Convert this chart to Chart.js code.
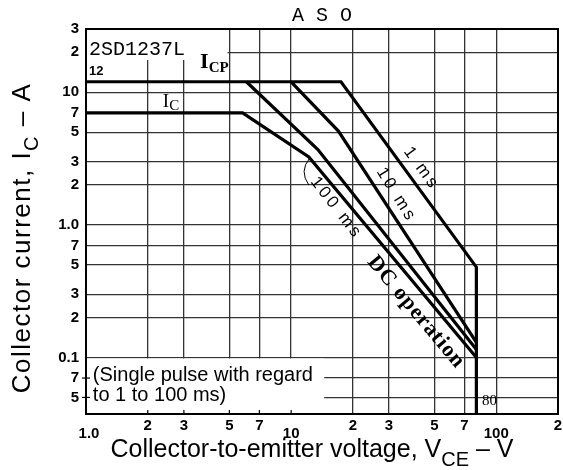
<!DOCTYPE html>
<html><head><meta charset="utf-8">
<script src="https://cdn.jsdelivr.net/npm/chart.js@4.4.1/dist/chart.umd.min.js"></script>
<style>html,body{margin:0;padding:0;background:#fff}#wrap{width:563px;height:470px;position:relative}</style>
</head><body><div id="wrap"><canvas id="c" width="563" height="470"></canvas></div>
<script>
// ---- axis ticks ----
const xTickValues = [1, 2, 3, 5, 7, 10, 20, 30, 50, 70, 100, 200];
const xTickLabels = ['1.0', '2', '3', '5', '7', '10', '2', '3', '5', '7', '100', '2'];
const xMajorLabels = ['1.0', '10', '100'];
const yTickValues = [30, 20, 10, 7, 5, 3, 2, 1, 0.7, 0.5, 0.3, 0.2, 0.1, 0.07, 0.05];
const yTickLabels = ['3', '2', '10', '7', '5', '3', '2', '1.0', '7', '5', '3', '2', '0.1', '7', '5'];
const xMin = 1, xMax = 200, yMin = 0.0375, yMax = 30;

// ---- series (VCE in V, IC in A) ----
const pulse1msV = [1, 17.5, 80, 80];
const pulse1msI = [12, 12, 0.48, 0.0375];
const pulse10msV = [10, 17, 80];
const pulse10msI = [12, 5.1, 0.13];
const pulse100msV = [6.05, 13.5, 80];
const pulse100msI = [12, 3.7, 0.115];
const dcV = [1, 5.8, 12.2, 80];
const dcI = [7, 7, 3.25, 0.1];

const SANS = '"Liberation Sans", Arial, sans-serif';
const SERIF = '"Liberation Serif", "Times New Roman", serif';
const MONO = '"Liberation Mono", "Courier New", monospace';

const toPts = (xs, ys) => xs.map((v, i) => ({ x: v, y: ys[i] }));
const ds = (label, xs, ys) => ({
  label, data: toPts(xs, ys), showLine: true, borderColor: '#000',
  backgroundColor: '#000', borderWidth: 3.2, pointRadius: 0, fill: false, tension: 0
});

function rich(ctx, parts, x, y, align) {
  let w = 0;
  parts.forEach(p => { ctx.font = p[1]; w += ctx.measureText(p[0]).width; });
  let cx = align === 'center' ? x - w / 2 : x;
  ctx.textAlign = 'left'; ctx.textBaseline = 'alphabetic';
  parts.forEach(p => { ctx.font = p[1]; ctx.fillText(p[0], cx, y + (p[2] || 0)); cx += ctx.measureText(p[0]).width; });
}
function rotText(ctx, txt, cx, cy, deg, font, spacing) {
  ctx.save();
  ctx.translate(cx, cy); ctx.rotate(deg * Math.PI / 180);
  ctx.font = font; ctx.letterSpacing = (spacing || 0) + 'px';
  ctx.textAlign = 'center'; ctx.textBaseline = 'middle';
  ctx.fillText(txt, 0, 0);
  ctx.restore();
}

const annot = {
  id: 'annot',
  beforeDatasetsDraw(chart) {
    const { ctx, chartArea: a, scales: { x, y } } = chart;
    ctx.save();
    ctx.fillStyle = '#fff';
    // blank area behind type label
    const bx1 = x.getPixelForValue(4.9), by1 = y.getPixelForValue(17.5);
    ctx.fillRect(a.left + 1, a.top + 1, bx1 - a.left - 1, by1 - a.top - 1);
    // blank area behind note
    const bx2 = x.getPixelForValue(14.5), by2 = y.getPixelForValue(0.1);
    ctx.fillRect(a.left + 1, by2 + 1, bx2 - a.left - 1, a.bottom - by2 - 2);
    // small tick marks inside note box
    ctx.strokeStyle = '#000'; ctx.lineWidth = 1.2;
    [2, 3, 5, 7, 10].forEach(v => {
      const px = x.getPixelForValue(v);
      ctx.beginPath(); ctx.moveTo(px, a.bottom); ctx.lineTo(px, a.bottom - 4); ctx.stroke();
    });
    [0.07, 0.05].forEach(v => {
      const py = y.getPixelForValue(v);
      ctx.beginPath(); ctx.moveTo(a.left - 4, py); ctx.lineTo(a.left + 4, py); ctx.stroke();
    });
    // frame
    ctx.lineWidth = 2;
    ctx.strokeRect(a.left, a.top, a.right - a.left, a.bottom - a.top);
    ctx.restore();
  },
  afterDatasetsDraw(chart) {
    const { ctx, chartArea: a, scales: { x, y } } = chart;
    const P = (v, i) => [x.getPixelForValue(v), y.getPixelForValue(i)];
    ctx.save();
    ctx.fillStyle = '#000';
    let p;
    // type label
    p = P(1.035, 19.1);
    ctx.font = '20px ' + MONO; ctx.textAlign = 'left'; ctx.textBaseline = 'alphabetic';
    ctx.fillText('2SD1237L', p[0], p[1]);
    p = P(1.035, 13.5);
    ctx.font = 'bold 13px ' + SANS; ctx.fillText('12', p[0], p[1]);
    // ICP
    p = P(3.6, 15.2);
    rich(ctx, [['I', 'bold 22px ' + SERIF, 0], ['CP', 'bold 15px ' + SERIF, 4]], p[0], p[1], 'left');
    // IC
    p = P(2.37, 7.74);
    rich(ctx, [['I', '19px ' + SERIF, 0], ['C', '15px ' + SERIF, 3]], p[0], p[1], 'left');
    // 80
    p = P(85.3, 0.0438);
    ctx.font = '15px ' + SERIF; ctx.textAlign = 'left'; ctx.fillText('80', p[0], p[1]);
    // note
    ctx.font = '20px ' + SANS;
    p = P(1.08, 0.0664); ctx.fillText('(Single pulse with regard', p[0], p[1]);
    p = P(1.08, 0.047); ctx.fillText('to 1 to 100 ms)', p[0], p[1]);
    // curve labels
    p = P(43.2, 2.66); rotText(ctx, '1 ms', p[0], p[1], 54, '17px ' + SANS, 3);
    p = P(32.6, 1.68); rotText(ctx, '10 ms', p[0], p[1], 58, '17px ' + SANS, 3);
    p = P(16.6, 1.34); rotText(ctx, '100 ms', p[0], p[1], 52, '17px ' + SANS, 3);
    p = P(40.6, 0.22); rotText(ctx, 'DC operation', p[0], p[1], 50, 'bold 22px ' + SERIF, 1);
    // leader arc for 100 ms
    const k = P(dcV[2], dcI[2]);
    ctx.strokeStyle = '#000'; ctx.lineWidth = 1;
    ctx.beginPath(); ctx.moveTo(k[0] + 1, k[1] + 1);
    ctx.quadraticCurveTo(k[0] - 10, k[1] + 14, k[0], k[1] + 28); ctx.stroke();
    // x tick labels
    ctx.font = 'bold 15px ' + SANS; ctx.textAlign = 'center'; ctx.textBaseline = 'top';
    xTickValues.forEach((v, i) => {
      const lab = xTickLabels[i];
      const major = xMajorLabels.includes(lab);
      ctx.fillText(lab, x.getPixelForValue(v) + (i === 0 ? 3 : 0), a.bottom + (major ? 12 : 4));
    });
    // axis titles
    rich(ctx, [['Collector-to-emitter voltage, V', '25px ' + SANS, 0], ['CE', '20px ' + SANS, 9], [' \u2013 V', '25px ' + SANS, 0]], 312, 457, 'center');
    ctx.translate(30, 238); ctx.rotate(-Math.PI / 2);
    ctx.letterSpacing = '1.5px';
    rich(ctx, [['Collector current, I', '26px ' + SANS, 0], ['C', '20px ' + SANS, 8], [' \u2013 A', '26px ' + SANS, 0]], 0, 0, 'center');
    ctx.restore();
  }
};

new Chart(document.getElementById('c'), {
  type: 'scatter',
  data: {
    datasets: [
      ds('1 ms', pulse1msV, pulse1msI),
      ds('10 ms', pulse10msV, pulse10msI),
      ds('100 ms', pulse100msV, pulse100msI),
      ds('DC operation', dcV, dcI)
    ]
  },
  options: {
    responsive: false, animation: false, devicePixelRatio: 1,
    layout: { padding: { left: 0, right: 5, top: 0, bottom: 0 } },
    plugins: {
      legend: { display: false }, tooltip: { enabled: false },
      title: {
        display: true, text: 'A S O', fullSize: false, color: '#000',
        font: { family: MONO, size: 20, weight: 'normal', lineHeight: 1.2 },
        padding: { top: 4, bottom: 1 }
      }
    },
    scales: {
      x: {
        type: 'logarithmic', min: xMin, max: xMax,
        afterBuildTicks: s => { s.ticks = xTickValues.map(v => ({ value: v })); },
        ticks: { display: false, autoSkip: false },
        grid: { color: '#333', lineWidth: 1.3, drawTicks: false },
        border: { display: false },
        afterFit: s => { s.height = 56; }
      },
      y: {
        type: 'logarithmic', min: yMin, max: yMax,
        afterBuildTicks: s => { s.ticks = yTickValues.map(v => ({ value: v })); },
        ticks: {
          autoSkip: false, color: '#000', padding: 7,
          font: { family: SANS, size: 15, weight: 'bold' },
          callback: v => { const i = yTickValues.indexOf(v); return i >= 0 ? yTickLabels[i] : ''; }
        },
        grid: { color: '#333', lineWidth: 1.3, drawTicks: false },
        border: { display: false },
        afterFit: s => { s.width = 86; }
      }
    }
  },
  plugins: [annot]
});
</script>
</body></html>
